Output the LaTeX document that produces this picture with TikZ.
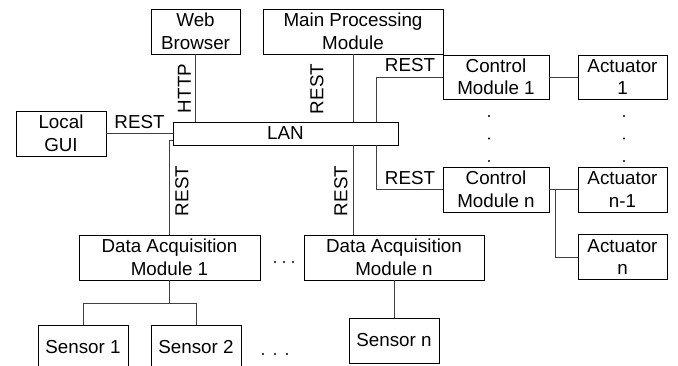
\documentclass[tikz,border=0pt]{standalone}
\usepackage{fontspec}
\setmainfont{Liberation Sans}
\usetikzlibrary{calc}
\tikzset{
  box/.style={draw=black, line width=0.9pt, fill=white, inner sep=0pt, align=center,
    font=\fontsize{18.8}{22.5}\selectfont, minimum width=#1, minimum height=45pt},
  box/.default=90pt,
  wire/.style={draw=black!75, line width=0.75pt},
  lbl/.style={inner sep=0pt, font=\fontsize{18.8}{22.5}\selectfont},
  dotc/.style={fill=black}
}
\begin{document}
\begin{tikzpicture}[x=1pt,y=-1pt]
\useasboundingbox (0,0) rectangle (678,366);
\clip (0,0) rectangle (678,366);
% boxes
\node[box=89pt] (web) at (195.5,31.5) {Web\\Browser};
\node[box=180pt] (main) at (353,31.5) {Main Processing\\Module};
\node[box=90pt] (gui) at (61,133.5) {Local\\GUI};
\node[box=225pt, minimum height=23pt] (lan) at (285.5,133.5) {LAN};
\node[box=106pt, minimum height=44pt] (cm1) at (496,77) {Control\\Module 1};
\node[box=89pt, minimum height=44pt] (a1) at (622.5,77) {Actuator\\1};
\node[box=106pt] (cmn) at (496,189.5) {Control\\Module n};
\node[box=89pt] (an1) at (622.5,189.5) {Actuator\\n-1};
\node[box=89pt] (an) at (622.5,257) {Actuator\\n};
\node[box=181pt] (dam1) at (169.5,257.5) {Data Acquisition\\Module 1};
\node[box=180pt] (damn) at (394,257.5) {Data Acquisition\\Module n};
\node[box=90pt] (s1) at (83,347.5) {Sensor 1};
\node[box=90pt] (s2) at (196,347.5) {Sensor 2};
\node[box=90pt] (sn) at (394,340.5) {Sensor n};
% connectors
\draw[wire] (web.south) -- (web.south |- lan.north);
\draw[wire] (main.south) -- (main.south |- lan.north);
\draw[wire] (main.south |- lan.south) -- (main.south |- damn.north);
\draw[wire] (gui.east) -- (lan.west);
\coordinate (j) at ($(lan.south west)+(0,-5)$);
\draw[wire] (dam1.north) |- (j);
\coordinate (bx) at (376,0);
\draw[wire] (cm1.west) -| (bx |- lan.north);
\draw[wire] (bx |- lan.south) |- (cmn.west);
\draw[wire] (cm1.east) -- (a1.west);
\draw[wire] (cmn.east) -- (an1.west);
\coordinate (bj) at ($(cmn.east)+(6,0)$);
\draw[wire] (bj) |- (an.west);
\coordinate (sb) at ($(dam1.south)+(0,23)$);
\draw[wire] (dam1.south) -- (sb);
\draw[wire] (s1.north) |- (sb) -| (s2.north);
\draw[wire] (damn.south) -- (sn.north);
% labels
\node[lbl, rotate=90] (l1) at (184.5,88.5) {HTTP};
\node[lbl, rotate=90] (l2) at (317,89) {REST};
\node[lbl] (l3) at (139.5,122.5) {REST};
\node[lbl] (l4) at (410,65) {REST};
\node[lbl] (l5) at (410,178.5) {REST};
\node[lbl, rotate=90] (l6) at (182,191) {REST};
\node[lbl, rotate=90] (l7) at (341,191) {REST};
% dots
\foreach \x in {275,284,293} \fill[dotc] (\x,262) circle (1.1pt);
\foreach \x in {263,275,287} \fill[dotc] (\x,354) circle (1.1pt);
\foreach \y in {116,138.5,161} {
  \fill[dotc] (489,\y) circle (1.1pt);
  \fill[dotc] (624,\y) circle (1.1pt);
}
\end{tikzpicture}
\end{document}
